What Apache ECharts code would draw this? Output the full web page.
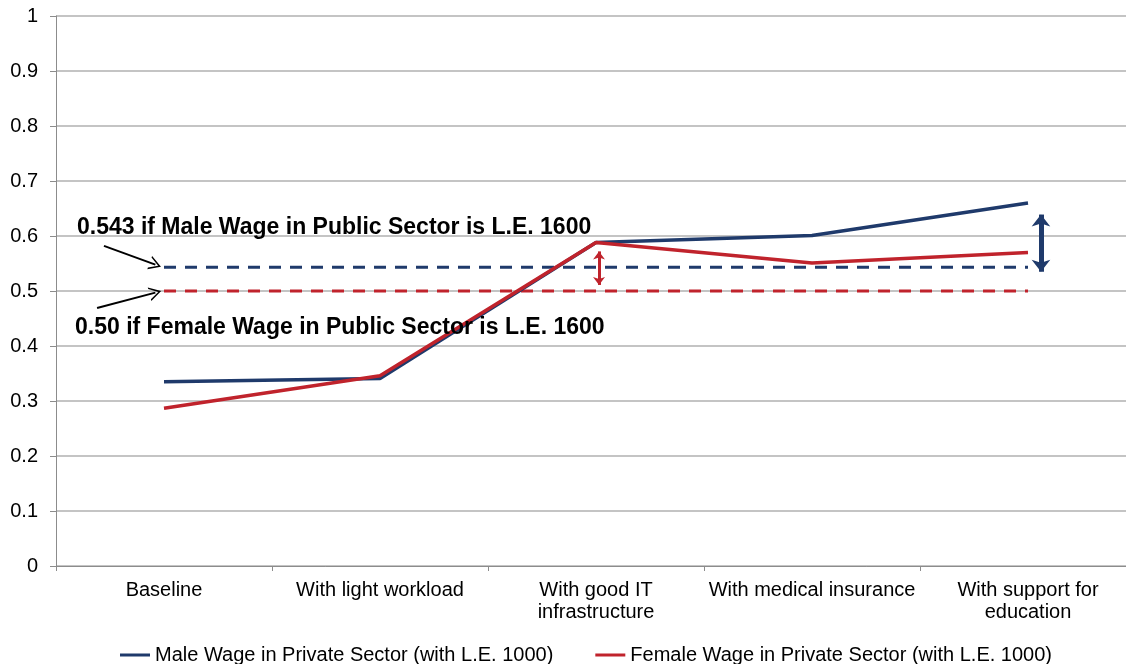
<!DOCTYPE html>
<html>
<head>
<meta charset="utf-8">
<script src="https://cdn.jsdelivr.net/npm/echarts@6/dist/echarts.min.js"></script>
<style>
  html, body { margin: 0; padding: 0; background: #fff; overflow: hidden; }
  #chart { width: 1136px; height: 664px; }
</style>
</head>
<body>
<div id="chart"></div>
<script>
const categories = [
  "Baseline",
  "With light workload",
  "With good IT\ninfrastructure",
  "With medical insurance",
  "With support for\neducation",
];
const maleName = "Male Wage in Private Sector (with L.E. 1000)";
const femaleName = "Female Wage in Private Sector (with L.E. 1000)";
const maleValues = [0.335, 0.341, 0.588, 0.601, 0.660];
const femaleValues = [0.287, 0.346, 0.588, 0.551, 0.570];

// public sector reference levels
const malePublic = 0.543;
const femalePublic = 0.50;
const maleNote = "0.543 if Male Wage in Public Sector is L.E. 1600";
const femaleNote = "0.50 if Female Wage in Public Sector is L.E. 1600";

// gap arrows (x in category units, y in ratio)
const redGap = { x: 2.014, from: 0.511, to: 0.572 };
const blueGap = { x: 4.06, from: 0.535, to: 0.639 };

const yTicks = { min: 0, max: 1, step: 0.1 };

const navy = "#1f3a6b";
const red = "#c0232c";
const font = "Liberation Sans, Arial, sans-serif";

const chevron = "path://M0,20 L10,0 L20,20 L17.5,20 L10,5 L2.5,20 Z";
const blackLine = { color: "#000", width: 2, type: "solid" };

const chart = echarts.init(document.getElementById("chart"));
chart.setOption({
  animation: false,
  backgroundColor: "#fff",
  textStyle: { fontFamily: font },
  grid: { left: 56, right: 0, top: 16, bottom: 98 },
  legend: {
    data: [maleName, femaleName],
    left: 115,
    top: 640,
    icon: "rect",
    itemWidth: 30,
    itemHeight: 3,
    itemGap: 42,
    textStyle: { fontSize: 20, color: "#000", fontFamily: font },
  },
  xAxis: [
    {
      type: "category",
      data: categories,
      boundaryGap: true,
      axisLine: { lineStyle: { color: "#8c8c8c", width: 1 } },
      axisTick: { show: true, interval: 0, length: 5, lineStyle: { color: "#8c8c8c" } },
      axisLabel: { interval: 0, fontSize: 20, color: "#000", margin: 13, lineHeight: 22, fontFamily: font },
    },
    {
      type: "value",
      min: -0.5,
      max: 4.5,
      show: false,
    },
  ],
  yAxis: {
    type: "value",
    min: yTicks.min,
    max: yTicks.max,
    interval: yTicks.step,
    axisLine: { show: true, onZero: false, lineStyle: { color: "#8c8c8c" } },
    axisTick: { show: true, length: 6, lineStyle: { color: "#8c8c8c" } },
    axisLabel: { fontSize: 20, color: "#000", margin: 18, fontFamily: font },
    splitLine: { lineStyle: { color: "#b0b0b0", width: 1.5 } },
  },
  series: [
    {
      name: maleName,
      type: "line",
      data: maleValues,
      symbol: "none",
      itemStyle: { color: navy },
      lineStyle: { color: navy, width: 3.5 },
      z: 3,
    },
    {
      name: femaleName,
      type: "line",
      data: femaleValues,
      symbol: "none",
      itemStyle: { color: red },
      lineStyle: { color: red, width: 3.5 },
      z: 4,
    },
    {
      name: "male public",
      type: "line",
      xAxisIndex: 1,
      data: [[0, malePublic], [4, malePublic]],
      symbol: "none",
      lineStyle: { color: navy, width: 3, type: [12, 9] },
      z: 2,
      markLine: {
        silent: true,
        animation: false,
        label: { show: false },
        data: [
          [
            { coord: [blueGap.x, blueGap.from], symbol: "arrow", symbolSize: [14, 12] },
            { coord: [blueGap.x, blueGap.to], symbol: "arrow", symbolSize: [14, 12] },
          ],
          [
            { coord: [-0.278, 0.582], symbol: "none", lineStyle: blackLine },
            { coord: [-0.04, 0.548], symbol: chevron, symbolSize: [14, 12], lineStyle: blackLine, itemStyle: { color: "#000" } },
          ],
        ],
        lineStyle: { color: navy, width: 5, type: "solid" },
        itemStyle: { color: navy },
      },
      markPoint: {
        silent: true,
        data: [
          {
            coord: [-0.403, 0.6145],
            symbol: "rect",
            symbolSize: 0,
            label: {
              show: true,
              position: "right",
              distance: 0,
              formatter: maleNote,
              fontSize: 23,
              fontWeight: "bold",
              color: "#000",
              fontFamily: font,
            },
          },
        ],
      },
    },
    {
      name: "female public",
      type: "line",
      xAxisIndex: 1,
      data: [[0, femalePublic], [4, femalePublic]],
      symbol: "none",
      lineStyle: { color: red, width: 3, type: [12, 9] },
      z: 2,
      markLine: {
        silent: true,
        animation: false,
        label: { show: false },
        data: [
          [
            { coord: [redGap.x, redGap.from], symbol: "arrow", symbolSize: [9, 8] },
            { coord: [redGap.x, redGap.to], symbol: "arrow", symbolSize: [9, 8] },
          ],
          [
            { coord: [-0.31, 0.469], symbol: "none", lineStyle: blackLine },
            { coord: [-0.04, 0.497], symbol: chevron, symbolSize: [14, 12], lineStyle: blackLine, itemStyle: { color: "#000" } },
          ],
        ],
        lineStyle: { color: red, width: 3, type: "solid" },
        itemStyle: { color: red },
      },
      markPoint: {
        silent: true,
        data: [
          {
            coord: [-0.412, 0.4327],
            symbol: "rect",
            symbolSize: 0,
            label: {
              show: true,
              position: "right",
              distance: 0,
              formatter: femaleNote,
              fontSize: 23,
              fontWeight: "bold",
              color: "#000",
              fontFamily: font,
            },
          },
        ],
      },
    },
  ],
});

window.addEventListener("resize", () => chart.resize());
</script>
</body>
</html>
